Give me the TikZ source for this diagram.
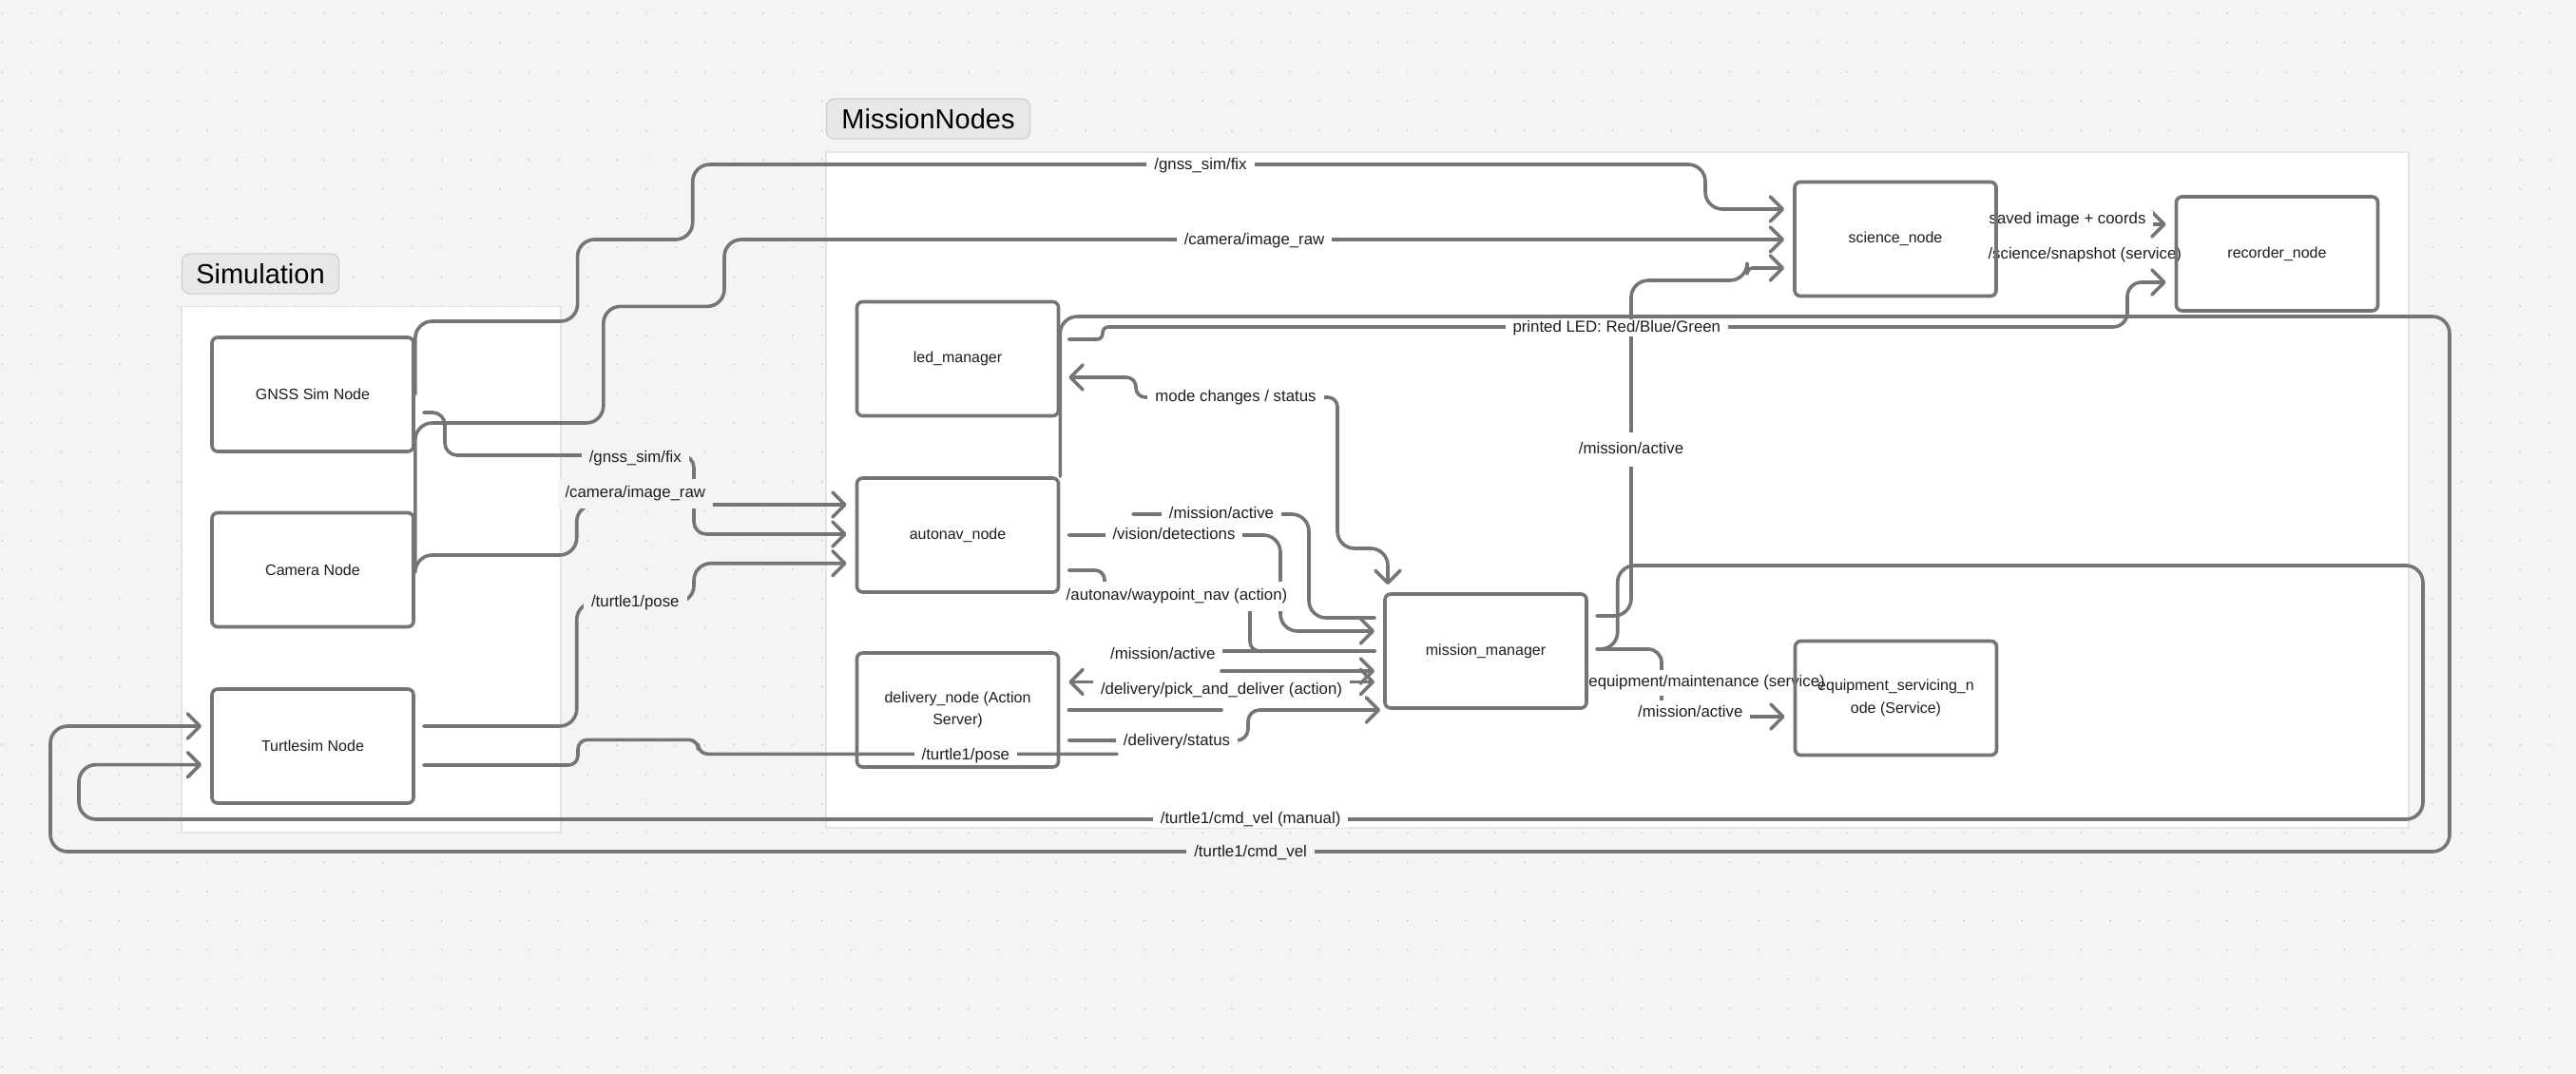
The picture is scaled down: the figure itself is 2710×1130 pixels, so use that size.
\documentclass[tikz,border=0pt]{standalone}
\usepackage{fontspec}
\setmainfont{Liberation Sans}
\usetikzlibrary{arrows.meta}
\definecolor{bgc}{RGB}{244,244,244}
\definecolor{dotc}{RGB}{196,196,196}
\definecolor{linec}{RGB}{117,117,117}
\definecolor{framec}{RGB}{228,228,228}
\definecolor{titlec}{RGB}{232,232,232}
\definecolor{titleline}{RGB}{206,206,206}
\definecolor{txtc}{RGB}{30,30,30}
\pgfdeclarelayer{back}
\pgfdeclarelayer{edges}
\pgfdeclarelayer{lbls}
\pgfsetlayers{back,edges,lbls,main}
\begin{document}
\begin{tikzpicture}[x=1pt,y=-1pt,
    box/.style={draw=linec,line width=3.6pt,rounded corners=6pt,minimum width=212pt,minimum height=120pt,
        inner sep=0pt,align=center,text=txtc,font=\fontsize{16}{23.4}\selectfont},
    frame/.style={fill=white,draw=framec,line width=1.2pt},
    title/.style={fill=titlec,draw=titleline,line width=1.2pt,rounded corners=8pt,minimum height=42pt,
        text=black,font=\fontsize{29}{34}\selectfont},
    conn/.style={draw=linec,line width=3.6pt,line cap=round,line join=round,rounded corners=18pt},
    tip/.style={-{Straight Barb[length=13pt,width=26pt,round]},shorten >=9pt},
    tips/.style={{Straight Barb[length=13pt,width=26pt,round]}-{Straight Barb[length=13pt,width=26pt,round]},
        shorten <=9pt,shorten >=9pt},
    gap/.style={shorten <=9pt},
    lbl/.style={fill=white,inner xsep=8pt,inner ysep=2pt,text height=12pt,text depth=3.5pt,
        text=txtc,font=\fontsize{16.8}{20}\selectfont},
    lblg/.style={lbl,fill=bgc}]

\begin{pgfonlayer}{back}
\fill[bgc] (0,0) rectangle (2710,1130);
\useasboundingbox (0,0) rectangle (2710,1130);
\foreach \i in {0,...,87}
    \foreach \j in {0,...,36}
        \fill[dotc] (2.3+30.8*\i,14+30.8*\j) circle (0.9pt);
\draw[frame] (191,322.5) rectangle (590,876);
\draw[frame] (869,160) rectangle (2534,871);
\node[title,minimum width=165pt] (simtitle) at (274,288) {Simulation};
\node[title,minimum width=214pt] (missiontitle) at (976.5,125) {MissionNodes};
\end{pgfonlayer}

\node[box] (gnss) at (329,415) {GNSS Sim Node};
\node[box] (camera) at (329,599.5) {Camera Node};
\node[box] (turtle) at (329,785) {Turtlesim Node};
\node[box] (led) at (1007.5,377.5) {led\_manager};
\node[box] (autonav) at (1007.5,563) {autonav\_node};
\node[box] (delivery) at (1007.5,747) {delivery\_node (Action\\Server)};
\node[box] (mission) at (1563,685) {mission\_manager};
\node[box] (science) at (1994,251.5) {science\_node};
\node[box] (recorder) at (2395.5,267) {recorder\_node};
\node[box] (equip) at (1994.5,734.5) {equipment\_servicing\_n\\ode (Service)};

\coordinate (pose2) at (1175,793.3);
\coordinate (mact1) at (1192,541);
\coordinate (mact2) at (1270,685);
\coordinate (pdin) at (1285,706);
\coordinate (pdout) at (1285,747);

\begin{pgfonlayer}{edges}
\draw[conn,tip] (gnss.east) -- (gnss.east |- 0,338) -- (607.6,338) -- (607.6,252) -- (728.7,252)
    -- (728.7,173) -- (1794,173) -- (1794,220) -- (science.west |- 0,220);
\draw[conn,tip] (camera.east) -- (camera.east |- 0,445) -- (634.8,445) -- (634.8,322.4) -- (762,322.4)
    -- (762,252) -- (science.west |- 0,252);
\draw[conn,tip,gap,rounded corners=13pt] (gnss.east |- 0,434) -- (468,434) -- (468,479) -- (730,479)
    -- (730,562) -- (autonav.west |- 0,562);
\draw[conn,tip] (camera.east |- 0,602) -- (camera.east |- 0,584) -- (606.7,584) -- (606.7,531)
    -- (autonav.west |- 0,531);
\draw[conn,tip,gap] (turtle.east |- 0,764) -- (606.7,764) -- (606.7,634) -- (730,634) -- (730,592.7)
    -- (autonav.west |- 0,592.7);
\draw[conn,gap,rounded corners=10pt] (turtle.east |- 0,805) -- (608,805) -- (608,778.3) -- (734.5,778.3)
    -- (734.5,793.3) -- (pose2);
\draw[conn,tip] (autonav.north east) -- (autonav.north east |- 0,333) -- (2577,333) -- (2577,896)
    -- (53,896) -- (53,764) -- (turtle.west |- 0,764);
\draw[conn,tip,gap] (mission.east |- 0,683) -- (1701.7,683) -- (1701.7,595) -- (2549,595) -- (2549,862)
    -- (83,862) -- (83,804.6) -- (turtle.west |- 0,804.6);
\draw[conn,tip,gap,rounded corners=14pt] (mission.east |- 0,683) -- (1748,683) -- (1748,754)
    -- (equip.west |- 0,754);
\draw[conn,tip,gap] (mission.east |- 0,648) -- (1716,648) -- (1716,295) -- (1838,295)
    [rounded corners=6pt] -- (1838,282) -- (science.west |- 0,282);
\draw[conn,tip,gap] (autonav.east |- 0,563) -- (1347,563) -- (1347,664) -- (mission.west |- 0,664);
\draw[conn,gap,shorten >=9pt,rounded corners=10pt] (autonav.east |- 0,600) -- (1162,600) -- (1162,627)
    -- (1315,627) -- (1315,685) -- (mission.west |- 0,685);
\draw[conn,gap] (mission.west |- 0,650) -- (1377,650) -- (1377,541) -- (mact1);
\draw[conn,gap] (mission.west |- 0,685) -- (mact2);
\draw[conn,tip] (pdin) -- (mission.west |- 0,706);
\draw[conn,gap] (delivery.east |- 0,747) -- (pdout);
\draw[conn,tips] (delivery.east |- 0,717.5) -- (mission.west |- 0,717.5);
\draw[conn,tip,gap,shorten >=3pt,rounded corners=12pt] (delivery.east |- 0,779) -- (1313,779) -- (1313,747)
    -- (mission.west |- 0,747);
\draw[conn,tips,shorten >=8pt,rounded corners=10pt] (led.east |- 0,397) -- (1195,397) -- (1195,418)
    -- (1407,418) [rounded corners=18pt] -- (1407,577) -- (1460,577) -- (1460,0 |- mission.north);
\draw[conn,tip,gap,rounded corners=6pt] (led.east |- 0,357) -- (1160,357) -- (1160,344)
    [rounded corners=15pt] -- (2238,344) -- (2238,297) -- (recorder.west |- 0,297);
\draw[conn,tip] (science.east |- 0,236) -- (recorder.west |- 0,236);
\draw[conn] (science.east |- 0,268) -- (recorder.west |- 0,268);
\end{pgfonlayer}

\begin{pgfonlayer}{lbls}
\node[lbl] (gnsstop) at (1263,174.4) {/gnss\_sim/fix};
\node[lbl] (camtop) at (1319.5,253) {/camera/image\_raw};
\node[lblg] (gnsslow) at (668.3,482.7) {/gnss\_sim/fix};
\node[lblg,inner ysep=8pt] (camlow) at (668.3,519.3) {/camera/image\_raw};
\node[lblg] (poselow) at (668.3,634.3) {/turtle1/pose};
\node[lbl] (modes) at (1300,418.3) {mode changes / status};
\node[lbl,inner ysep=1pt] (ledout) at (1700.8,345) {printed LED: Red/Blue/Green};
\node[lbl,inner ysep=10pt] (actsci) at (1716,473) {/mission/active};
\node[lbl] (saved) at (2175,231.7) {saved image + coords};
\node[lbl] (snap) at (2193.3,268.3) {/science/snapshot (service)};
\node[lbl,inner xsep=3pt,inner ysep=6pt] (maint) at (1793.3,718.3) {/equipment/maintenance (service)};
\node[lbl,inner ysep=6pt] (actequip) at (1778.3,750.7) {/mission/active};
\node[lbl] (actnav) at (1285,541) {/mission/active};
\node[lbl] (vision) at (1235,563.3) {/vision/detections};
\node[lbl,inner ysep=8pt] (waypt) at (1238,627.3) {/autonav/waypoint\_nav (action)};
\node[lbl] (actdel) at (1223.3,689) {/mission/active};
\node[lbl,inner ysep=4pt] (pick) at (1285,726.7) {/delivery/pick\_and\_deliver (action)};
\node[lbl] (status) at (1238,780.7) {/delivery/status};
\node[lbl] (posedel) at (1015.8,795) {/turtle1/pose};
\node[lbl,inner ysep=0.5pt] (manual) at (1315.6,862.3) {/turtle1/cmd\_vel (manual)};
\node[lblg] (cmdvel) at (1315.6,897.3) {/turtle1/cmd\_vel};
\end{pgfonlayer}
\end{tikzpicture}
\end{document}
